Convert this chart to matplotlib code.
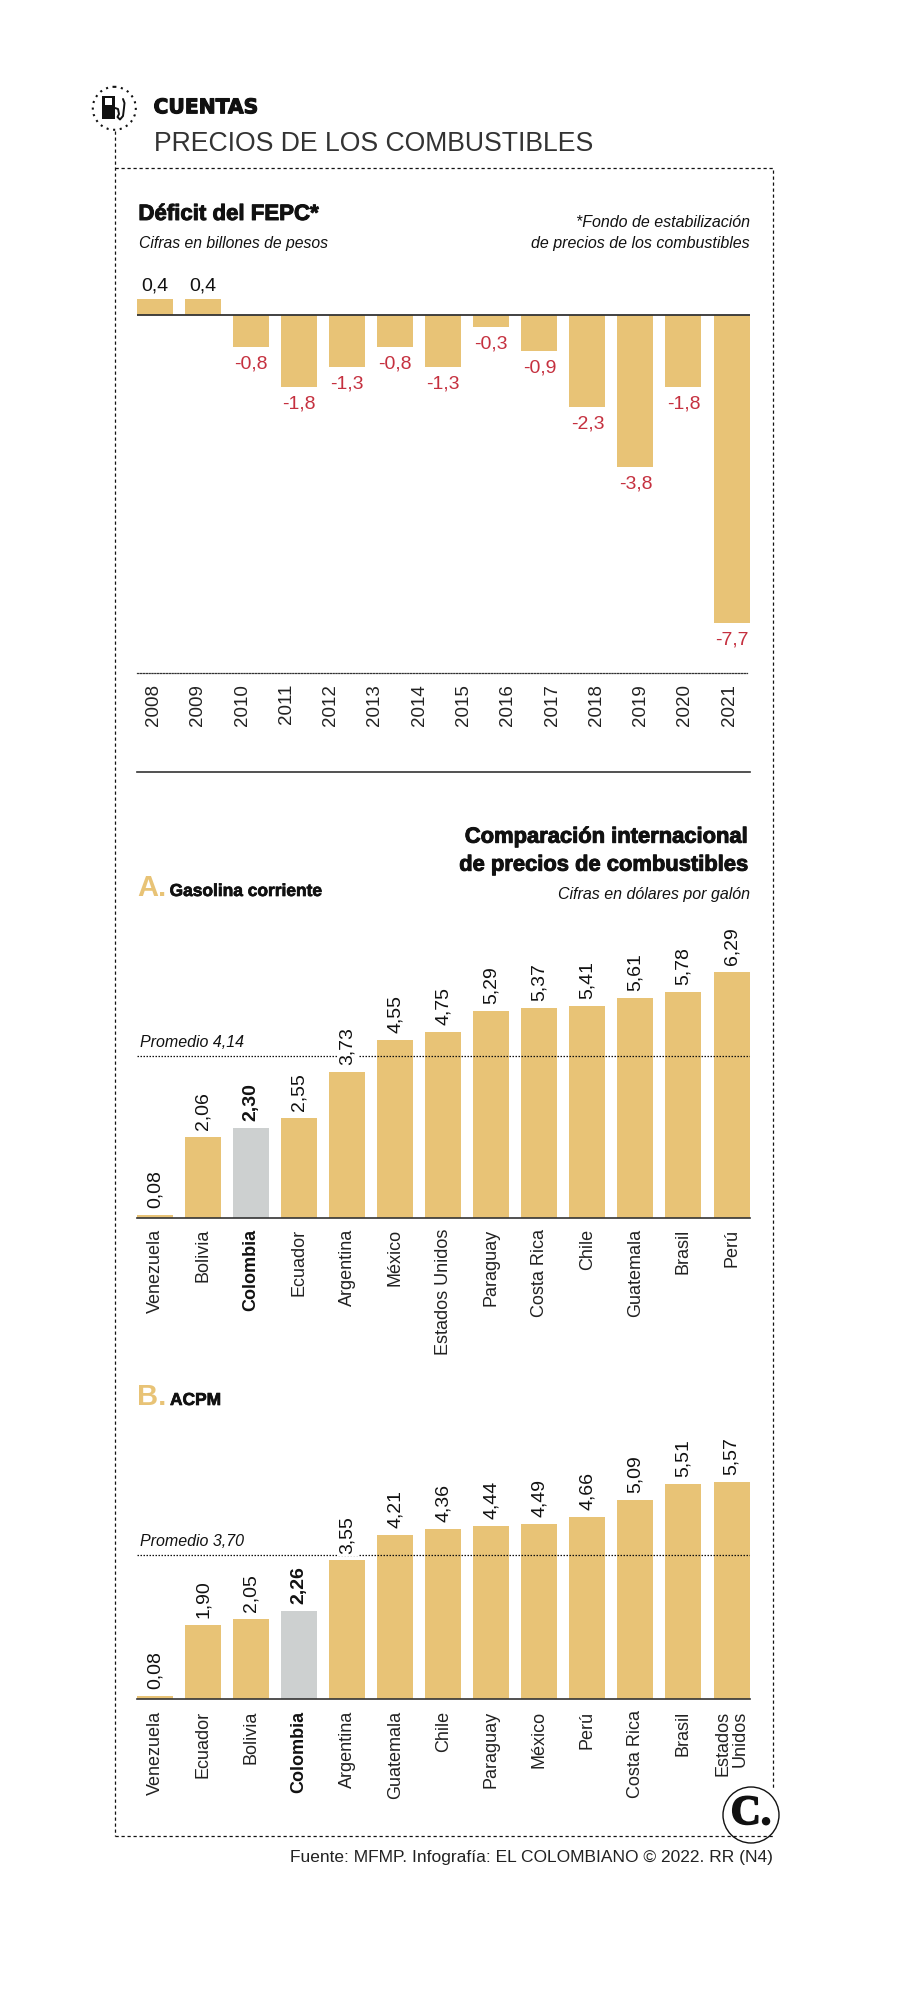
import matplotlib
matplotlib.use("Agg")
import matplotlib.pyplot as plt
import matplotlib.patheffects as pe
from matplotlib.patches import Circle, Rectangle

# 1. Data read from the graphic
# -----------------------------------------------------------------------------
# The graphic has 14 year labels but only 13 bars, kept as published
years = ['2008', '2009', '2010', '2011', '2012', '2013', '2014', '2015',
         '2016', '2017', '2018', '2019', '2020', '2021']
deficit = [0.4, 0.4, -0.8, -1.8, -1.3, -0.8, -1.3, -0.3, -0.9, -2.3, -3.8, -1.8, -7.7]

gasolina_paises = ['Venezuela', 'Bolivia', 'Colombia', 'Ecuador', 'Argentina', 'México',
                   'Estados Unidos', 'Paraguay', 'Costa Rica', 'Chile', 'Guatemala', 'Brasil', 'Perú']
gasolina = [0.08, 2.06, 2.30, 2.55, 3.73, 4.55, 4.75, 5.29, 5.37, 5.41, 5.61, 5.78, 6.29]
gasolina_promedio = 4.14

acpm_paises = ['Venezuela', 'Ecuador', 'Bolivia', 'Colombia', 'Argentina', 'Guatemala', 'Chile',
               'Paraguay', 'México', 'Perú', 'Costa Rica', 'Brasil', 'Estados\nUnidos']
acpm = [0.08, 1.90, 2.05, 2.26, 3.55, 4.21, 4.36, 4.44, 4.49, 4.66, 5.09, 5.51, 5.57]
acpm_promedio = 3.70

# 2. Styles and helpers
# -----------------------------------------------------------------------------
GOLD = '#E8C376'
GREY = '#CDD0D0'
RED = '#C5303F'
INK = '#111111'
SANS = ['Liberation Sans']

W, H = 908, 2000
fig = plt.figure(figsize=(W / 100, H / 100), dpi=100)


def axes_px(left, top, right, bottom):
    # axes placed by reference pixels (origin top left)
    ax = fig.add_axes([left / W, 1 - bottom / H, (right - left) / W, (bottom - top) / H])
    ax.patch.set_alpha(0)
    for s in ax.spines.values():
        s.set_visible(False)
    ax.tick_params(length=0)
    ax.set_yticks([])
    return ax


def fmt(v, dec):
    return f'{v:.{dec}f}'.replace('.', ',')


def heavy(lw=0.7):
    return [pe.withStroke(linewidth=lw, foreground=INK)]


# 3. Deficit chart
# -----------------------------------------------------------------------------
ax1 = axes_px(137, 291, 749.5, 672.7)
bar_w = 0.749
x1 = list(range(len(deficit)))
ax1.bar(x1, deficit, width=bar_w, color=GOLD, zorder=2)
ax1.set_xlim(-bar_w / 2, len(deficit) - 1 + bar_w / 2)
ax1.set_ylim(-8.94, 0.6)
ax1.axhline(0, color='#333333', lw=1.3, zorder=3)
ax1.set_xticks([])
for x, v in zip(x1, deficit):
    if v > 0:
        ax1.annotate(fmt(v, 1), (x, v), xytext=(0, 3), textcoords='offset points', ha='center',
                     va='bottom', family=SANS, fontsize=14, color=INK)
    else:
        ax1.annotate(fmt(v, 1), (x, v), xytext=(0, -6), textcoords='offset points', ha='center',
                     va='top', family=SANS, fontsize=14, color=RED)

ax1y = ax1.twiny()
ax1y.patch.set_alpha(0)
for s in ax1y.spines.values():
    s.set_visible(False)
ax1y.spines['bottom'].set_visible(True)
ax1y.spines['bottom'].set_linestyle((0, (1, 1.3)))
ax1y.spines['bottom'].set_linewidth(0.9)
ax1y.spines['bottom'].set_color('#333333')
ax1y.spines['bottom'].set_bounds(-0.373, 13.41)
ax1y.xaxis.set_ticks_position('bottom')
ax1y.set_xlim(-0.373, 13.46)
ax1y.set_xticks(range(len(years)))
ax1y.set_xticklabels(years, rotation=90, family=SANS, fontsize=13.5, color='#222222')
ax1y.tick_params(axis='x', length=0, pad=8)


# 4. Price charts
# -----------------------------------------------------------------------------
def price_chart(ax, paises, valores, promedio, label_gap):
    x = list(range(len(valores)))
    colors = [GREY if p == 'Colombia' else GOLD for p in paises]
    ax.bar(x, valores, width=bar_w, color=colors, zorder=2)
    ax.set_xlim(-bar_w / 2, len(valores) - 1 + bar_w / 2)
    ax.set_ylim(0, 6.6)
    ax.spines['bottom'].set_visible(True)
    ax.spines['bottom'].set_color('#333333')
    ax.spines['bottom'].set_linewidth(1.2)
    ax.spines['bottom'].set_zorder(4)
    ax.axhline(promedio, color=INK, lw=0.9, ls=(0, (1.2, 1.2)), zorder=3)
    ax.annotate(f'Promedio {fmt(promedio, 2)}', (0, promedio), xycoords=('axes fraction', 'data'),
                xytext=(2, 4), textcoords='offset points', ha='left', va='bottom',
                family=SANS, style='italic', fontsize=11.5, color=INK)
    ax.set_xticks(x)
    ax.set_xticklabels(paises, rotation=90, family=SANS, fontsize=13, color='#222222',
                       multialignment='right', linespacing=1.05)
    ax.tick_params(axis='x', length=0, pad=label_gap)
    for tick, p in zip(ax.get_xticklabels(), paises):
        if p == 'Colombia':
            tick.set_fontweight('bold')
            tick.set_color(INK)
    for xi, v, p in zip(x, valores, paises):
        bold = p == 'Colombia'
        ax.annotate(fmt(v, 2), (xi, v), xytext=(0, 5), textcoords='offset points', rotation=90,
                    ha='center', va='bottom', family=SANS, fontsize=14, color=INK,
                    fontweight='bold' if bold else 'normal', zorder=5,
                    bbox=dict(facecolor='white', edgecolor='none', pad=1.5))


# baselines at 1217.7 and 1699.3 px; 39.1 px per dollar
ax2 = axes_px(137, 1217.7 - 6.6 * 39.1, 749.5, 1217.7)
price_chart(ax2, gasolina_paises, gasolina, gasolina_promedio, 8)
ax3 = axes_px(137, 1699.3 - 6.6 * 39.1, 749.5, 1699.3)
price_chart(ax3, acpm_paises, acpm, acpm_promedio, 8)

# 5. Frame, headings, icon, logo and source
# -----------------------------------------------------------------------------
ov = fig.add_axes([0, 0, 1, 1], zorder=10)
ov.set_xlim(0, W)
ov.set_ylim(H, 0)
ov.axis('off')
ov.patch.set_alpha(0)

dash = (0, (2.6, 2.2))
ov.plot([114.5, 114.5], [131, 1836], color=INK, lw=0.9, ls=dash)
ov.plot([114.5, 773, 773], [167.7, 167.7, 1790], color=INK, lw=0.9, ls=dash)
ov.plot([114.5, 773], [1836, 1836], color=INK, lw=0.9, ls=dash)

# separator under the deficit chart
ov.plot([137, 749.5], [772.3, 772.3], color='#333333', lw=1.2)

# fuel icon
ov.add_patch(Circle((114.3, 108.3), 21.5, facecolor='white', edgecolor=INK, lw=1.5, ls=(0, (1, 2.2))))
ov.add_patch(Rectangle((102.3, 96), 12.7, 23.3, facecolor=INK, edgecolor='none'))
ov.add_patch(Rectangle((105, 98.3), 7.3, 6.7, facecolor='white', edgecolor='none'))
ov.plot([115, 118, 119, 117.5, 120, 123, 124, 124.5, 123], [108, 109, 114, 117, 119.5, 116, 108, 103, 99],
        color=INK, lw=1.4, solid_capstyle='round')

ov.text(153.5, 113.3, 'CUENTAS', family='DejaVu Sans', fontweight='bold', fontsize=14.6, color=INK,
        path_effects=heavy(0.8))
ov.text(154.4, 150.7, 'PRECIOS DE LOS COMBUSTIBLES', family=SANS, fontsize=19.2, color='#333333')

ov.text(138.4, 220, 'Déficit del FEPC*', family=SANS, fontweight='bold', fontsize=16,
        color=INK, path_effects=heavy())
ov.text(139, 248, 'Cifras en billones de pesos', family=SANS, style='italic', fontsize=11.3, color=INK)
ov.text(749.5, 227, '*Fondo de estabilización', family=SANS, style='italic', fontsize=11.5,
        color=INK, ha='right')
ov.text(749.5, 248, 'de precios de los combustibles', family=SANS, style='italic', fontsize=11.5,
        color=INK, ha='right')

ov.text(748.7, 842.7, 'Comparación internacional', family=SANS, fontweight='bold', fontsize=15.8,
        color=INK, ha='right', path_effects=heavy())
ov.text(748.7, 870.7, 'de precios de combustibles', family=SANS, fontweight='bold', fontsize=15.8,
        color=INK, ha='right', path_effects=heavy())
ov.text(749.5, 899.3, 'Cifras en dólares por galón', family=SANS, style='italic', fontsize=11.5,
        color=INK, ha='right')

ov.text(137.4, 896, 'A.', family=SANS, fontweight='bold', fontsize=21, color=GOLD)
ov.text(169.6, 896, 'Gasolina corriente', family=SANS, fontweight='bold', fontsize=12.5,
        color=INK, path_effects=heavy(0.5))
ov.text(137.4, 1405, 'B.', family=SANS, fontweight='bold', fontsize=21, color=GOLD)
ov.text(170, 1405, 'ACPM', family=SANS, fontweight='bold', fontsize=12.5,
        color=INK, path_effects=heavy(0.5))

# logo
ov.add_patch(Circle((751, 1815), 28, facecolor='white', edgecolor=INK, lw=1.0))
ov.text(751, 1814, 'C.', family='Liberation Serif', fontweight='bold', fontsize=30, color=INK,
        ha='center', va='center', path_effects=heavy(1.2))

ov.text(772.5, 1862, 'Fuente: MFMP. Infografía: EL COLOMBIANO © 2022. RR (N4)', family=SANS,
        fontsize=12.5, color='#222222', ha='right')

fig.savefig('out.png', dpi=100)
